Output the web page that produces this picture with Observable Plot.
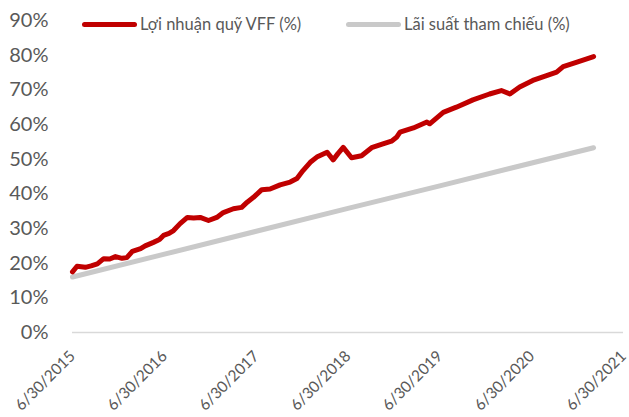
<!DOCTYPE html>
<html>
<head>
<meta charset="utf-8">
<script src="https://cdn.jsdelivr.net/npm/d3@7"></script>
<script src="https://cdn.jsdelivr.net/npm/@observablehq/plot@0.6"></script>
<style>
  html, body { margin: 0; padding: 0; background: #fff; }
  #wrap { position: relative; width: 629px; height: 417px; font-family: Lato, "Open Sans", sans-serif; }
  #legend { position: absolute; left: 0; top: 0; width: 629px; height: 40px; pointer-events: none; }
  .item { position: absolute; top: 14px; display: flex; align-items: center; font-size: 16.5px; color: #595959; white-space: nowrap; }
  .swatch { width: 55px; height: 5px; border-radius: 3px; margin-right: 3px; }
</style>
</head>
<body>
<div id="wrap">
  <div id="chart"></div>
  <div id="legend"></div>
</div>
<script>
// Series names
const seriesNames = ["Lợi nhuận quỹ VFF (%)", "Lãi suất tham chiếu (%)"];

// Fund return (VFF), %
const fundDates = [
  "2015-06-30","2015-07-18","2015-08-20","2015-09-12","2015-10-07","2015-11-01","2015-11-25","2015-12-18",
  "2016-01-13","2016-02-01","2016-02-23","2016-03-27","2016-04-14","2016-05-17","2016-06-10","2016-06-26",
  "2016-07-18","2016-08-05","2016-08-31","2016-09-29","2016-10-24","2016-11-19","2016-12-22","2017-01-24",
  "2017-02-19","2017-03-31","2017-05-03","2017-05-25","2017-06-19","2017-07-22","2017-08-24","2017-10-03",
  "2017-11-12","2017-12-09","2018-01-02","2018-01-31","2018-02-26","2018-04-08","2018-05-02","2018-05-21",
  "2018-06-11","2018-07-14","2018-08-23","2018-10-02","2018-11-16","2018-12-20","2019-01-09","2019-01-23",
  "2019-03-17","2019-05-10","2019-05-21","2019-07-14","2019-09-04","2019-11-09","2020-01-14","2020-03-01",
  "2020-04-04","2020-05-13","2020-07-04","2020-08-28","2020-10-07","2020-11-02","2020-12-27","2021-03-03"
];
const fundValues = [
  17.5, 19.1, 18.8, 19.2, 19.8, 21.3, 21.2, 21.9,
  21.4, 21.6, 23.4, 24.2, 25.0, 26.0, 26.8, 28.0,
  28.6, 29.4, 31.4, 33.2, 33.0, 33.2, 32.3, 33.2,
  34.6, 35.7, 36.1, 37.6, 39.0, 41.2, 41.4, 42.6,
  43.4, 44.4, 46.7, 49.1, 50.6, 52.0, 49.8, 51.6,
  53.4, 50.4, 51.0, 53.3, 54.4, 55.2, 56.3, 57.8,
  59.0, 60.7, 60.2, 63.5, 65.0, 67.1, 68.8, 69.8,
  68.8, 70.8, 72.7, 74.1, 75.1, 76.7, 78.0, 79.6
];

// Reference rate, %
const refDates = ["2015-06-30","2016-06-30","2017-06-30","2018-06-30","2019-06-30","2020-06-30","2021-03-03"];
const refValues = [16.0, 22.6, 29.2, 35.8, 42.3, 48.9, 53.3];

// Axis ticks
const yTicks = [0, 10, 20, 30, 40, 50, 60, 70, 80, 90];
const xTickDates = ["2015-06-30","2016-06-30","2017-06-30","2018-06-30","2019-06-30","2020-06-30","2021-06-30"];

const colors = ["#C00000", "#C9C9C9"];

const parse = d3.utcParse("%Y-%m-%d");
const fund = fundDates.map((d, i) => ({date: parse(d), value: fundValues[i]}));
const ref = refDates.map((d, i) => ({date: parse(d), value: refValues[i]}));
const xTicks = xTickDates.map(parse);
const fmt = d3.utcFormat("%-m/%-d/%Y");

const chart = Plot.plot({
  width: 629,
  height: 417,
  marginLeft: 72,
  marginRight: 6,
  marginTop: 20,
  marginBottom: 85,
  style: {fontFamily: "Lato, 'Open Sans', sans-serif", color: "#595959", background: "#fff"},
  x: {type: "utc", domain: [xTicks[0], xTicks[xTicks.length - 1]]},
  y: {domain: [0, 90]},
  marks: [
    Plot.ruleY([0], {stroke: "#D9D9D9", strokeWidth: 1.3}),
    Plot.axisY({ticks: yTicks, tickSize: 0, tickPadding: 24, tickFormat: d => d + "%", fontSize: 20, fill: "#595959", label: null}),
    Plot.axisX({ticks: xTicks, tickSize: 0, tickPadding: 21, tickRotate: -45, dx: 0, tickFormat: fmt, fontSize: 15.5, fill: "#595959", label: null}),
    Plot.line(ref, {x: "date", y: "value", stroke: colors[1], strokeWidth: 5, strokeLinecap: "round", strokeLinejoin: "round"}),
    Plot.line(fund, {x: "date", y: "value", stroke: colors[0], strokeWidth: 5, strokeLinecap: "round", strokeLinejoin: "round"})
  ]
});
document.getElementById("chart").appendChild(chart);

const legend = document.getElementById("legend");
const lefts = [82, 346];
seriesNames.forEach((name, i) => {
  const item = document.createElement("div");
  item.className = "item";
  item.style.left = lefts[i] + "px";
  const sw = document.createElement("div");
  sw.className = "swatch";
  sw.style.background = colors[i];
  const t = document.createElement("span");
  t.textContent = name;
  item.appendChild(sw);
  item.appendChild(t);
  legend.appendChild(item);
});
</script>
</body>
</html>
